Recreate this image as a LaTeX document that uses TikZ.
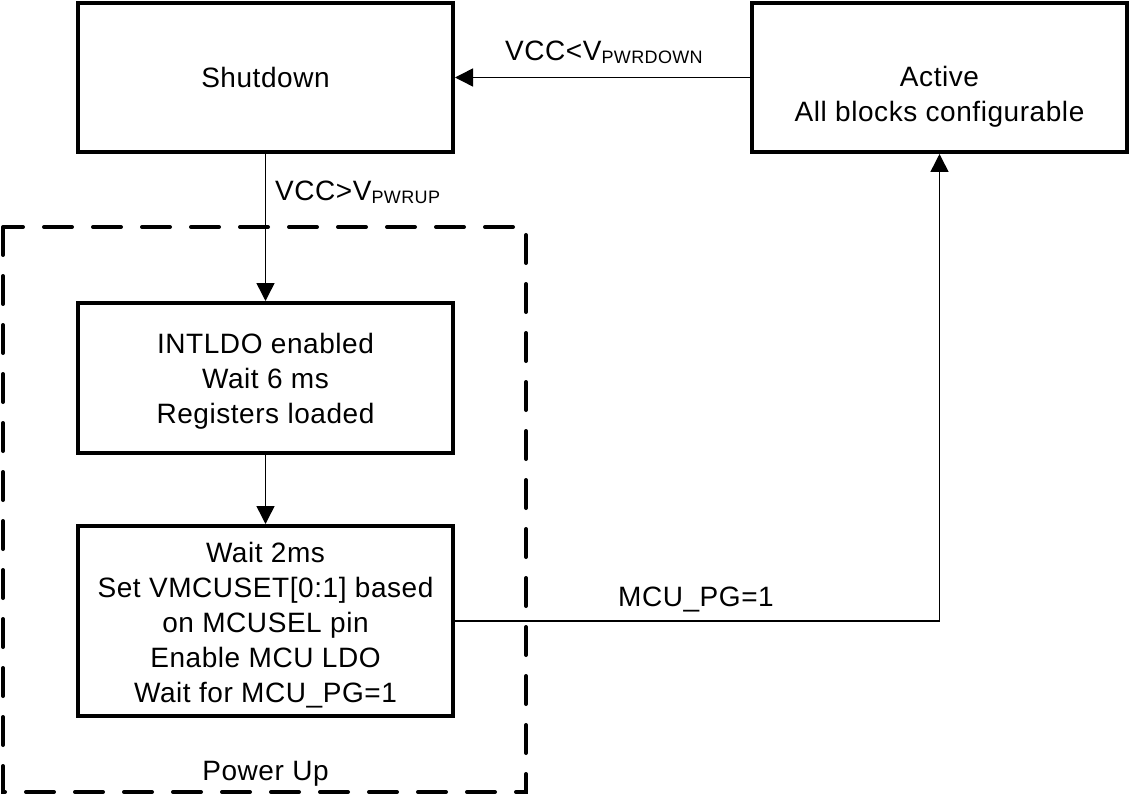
\documentclass[tikz,border=0pt]{standalone}
\usepackage{fontspec}
\setmainfont[LetterSpace=2]{Liberation Sans}
\usetikzlibrary{arrows.meta}
\newcommand{\subtxt}[1]{\raisebox{-3pt}{\fontsize{18}{18}\selectfont #1}}
\tikzset{
  box/.style={draw, line width=4pt, minimum width=375pt, inner sep=0pt},
  txt/.style={align=center, inner sep=0pt, font=\fontsize{28}{35}\selectfont},
  lbl/.style={inner sep=0pt, font=\fontsize{28}{35}\selectfont},
  arr/.style={line width=1.5pt, -{Triangle[length=18pt,width=18pt]}},
  dashbox/.style={line width=4pt, dash pattern=on 28pt off 21pt, line cap=round}
}
\begin{document}
\begin{tikzpicture}[x=1pt,y=-1pt]
\useasboundingbox (0,0) rectangle (1129,794);
% dashed power-up region
\draw[dashbox] (3,227) rectangle (526,792);
% boxes
\node[box, minimum height=149pt] (shut) at (265.5,77.5) {};
\node[box, minimum height=149pt] (act) at (939.5,77.5) {};
\node[box, minimum height=150pt] (ldo) at (265.5,378) {};
\node[box, minimum height=190pt] (wait) at (265.5,621) {};
% box texts
\node[txt] (tshut) at (shut.center) {Shutdown};
\node[txt] (tact) at (939.5,97) {Active\\All blocks configurable};
\node[txt] (tldo) at (265.5,381) {INTLDO enabled\\Wait 6 ms\\Registers loaded};
\node[txt] (twait) at (265.5,625) {Wait 2ms\\Set VMCUSET[0:1] based\\on MCUSEL pin\\Enable MCU LDO\\Wait for MCU\_PG=1};
% connectors
\draw[arr] (act.west) -- (shut.east);
\draw[arr] (shut.south) -- (ldo.north);
\draw[arr] (ldo.south) -- (wait.north);
\coordinate (corner) at (wait.east -| act.south);
\draw[arr] (wait.east) -- (corner) -- (act.south);
% labels
\node[lbl, anchor=base west] (l1) at (505,61) {VCC<V\subtxt{PWRDOWN}};
\node[lbl, anchor=base west] (l2) at (275,201) {VCC>V\subtxt{PWRUP}};
\node[lbl, anchor=base west] (l3) at (618,606) {MCU\_PG=1};
\node[lbl, anchor=base] (l4) at (265.5,780) {Power Up};
\end{tikzpicture}
\end{document}
